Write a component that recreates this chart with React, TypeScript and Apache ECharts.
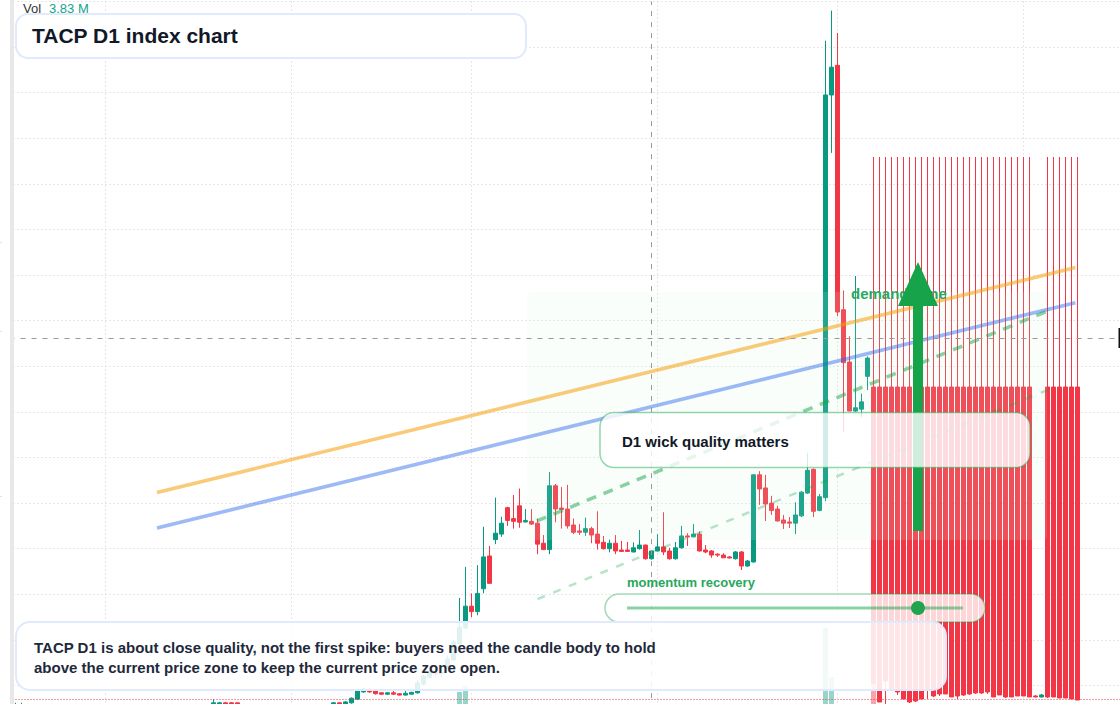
import { useEffect, useRef } from 'react';
import * as echarts from 'echarts';

const FONT = '"Liberation Sans", Arial, sans-serif';
const UP = '#089981';
const DOWN = '#F23645';
const INK = '#111827';
const SLATE = '#1e293b';
const GREEN = '#16a34a';

type Candle = [number, number, number, number] | null; // open, close, low, high

const gap = (n: number): Candle[] => Array(n).fill(null);

// Off the bottom of the picture before mid March, so left out
const febCandles: Candle[] = [null, [28, 29, 27, 31], [28, 29, 27, 31], ...gap(13)];
const marCandles: Candle[] = [
  ...gap(18),
  [28, 31, 26, 35], [29, 31, 28, 32], [31, 29, 28, 32], [31, 29, 28, 32], [31, 29, 28, 31.5],
  ...gap(8),
];
const aprCandles: Candle[] = [
  ...gap(7),
  [29, 31, 28, 32], [31, 29, 28, 31.5], [29, 32, 28, 33], [31, 36, 30, 37], [35, 44, 34, 45],
  [43, 46, 42, 47.5], [46, 43, 42, 47.5], [44, 41, 40, 45], [42, 40.5, 39.5, 42.5], [40.5, 42, 39.5, 42.5],
  [42, 40.5, 39.5, 44], [41, 39.5, 39, 41.5], [39.5, 41.5, 39, 44], [40.5, 42.5, 40, 43], [42, 53, 41, 56],
  [51.6, 60.4, 50, 62], [59, 65, 58, 67], [65, 63, 60, 68], [63, 64.5, 59, 70], [70, 79, 69, 83],
  [78, 98, 77, 100], [95.5, 114, 94, 146], [113, 137, 112, 180],
];
const mayCandles: Candle[] = [
  [137, 131, 125, 151], [131, 151, 127, 182], [156, 191, 151, 224], [192, 162, 162, 203], [210, 217, 205, 256],
  [216, 228, 213, 235], [245, 231, 225, 246], [233, 230, 222, 259], [247, 229, 223, 266], [229.3, 231, 229, 243.5],
  [230, 227, 226, 243.5], [228, 205, 194, 233], [206, 199, 199, 215], [199, 269, 194, 284], [269, 243.5, 229, 271],
  [244.6, 243, 222, 267.6], [243.5, 225, 222, 270], [226, 218, 216, 233], [219.5, 218, 215, 227], [218, 222, 214, 234],
  [222, 215, 206, 224], [216, 206, 199, 241], [207, 200, 199, 214], [200, 206, 196, 210], [206, 197.5, 194, 215],
  [198.6, 197, 197, 208.5], [198.6, 197, 197, 207.4], [196.4, 201, 196, 207], [200, 204, 199, 220.5], [204, 189, 188, 204.5],
  [189, 197.5, 188, 198],
];
const junCandles: Candle[] = [
  [197.5, 202, 197, 216], [202, 196.5, 193, 240], [197.5, 189, 188, 201], [189, 201, 188, 207.4], [201, 214, 200, 225],
  [214, 212.8, 203, 217], [213, 216, 212.5, 227], [216, 197.5, 197, 219], [198.6, 196.4, 195, 204], [197.5, 193, 190, 198.6],
  [194, 193, 191, 195], [193, 190, 190, 195], [191, 189.8, 189.5, 192], [189, 196.4, 188, 197.5], [196.4, 181, 176.6, 197.5],
  [181, 186.5, 180, 187.6], [185.4, 281, 185, 281.5], [281, 265.5, 248, 285], [266.6, 249, 230.4, 281], [250, 242, 237, 258],
  [243.5, 230.4, 230, 247], [231.5, 228, 221.6, 237], [229.3, 228, 222.7, 234.7], [228, 237, 216, 251], [236, 262, 234.7, 263.3],
  [261, 286, 260, 305], [287, 241, 234.7, 288], [242, 257, 241, 260], [256, 697.5, 252, 757], [697.5, 728, 634, 790],
];
const julCandles: Candle[] = [
  [730, 459.5, 455, 765.5], [462, 404, 328, 483], [404.7, 351, 351, 433], [351, 354.5, 350, 499], [353, 361, 344, 370],
  [389, 409, 374, 411],
  [377.3, 52.7, 52, 629.5], [377.3, 31.9, 31.9, 629.5], [377.3, 54.9, 29.7, 629.5], [377.3, 46.2, 46.2, 629.5], [377.3, 42.9, 39.6, 629.5],
  [377.3, 35.2, 35.2, 629.5], [377.3, 31.9, 30.8, 629.5], [377.3, 33, 31.9, 629.5], [377.3, 35.2, 35.2, 629.5], [377.3, 45.1, 35.2, 629.5],
  [377.3, 38.5, 37.4, 629.5], [377.3, 40.7, 38.5, 629.5], [377.3, 40.7, 40.7, 629.5], [377.3, 37.4, 37.4, 629.5], [377.3, 38.5, 35.2, 629.5],
  [377.3, 39.6, 38.5, 629.5], [377.3, 40.7, 39.6, 629.5], [377.3, 41.8, 40.7, 629.5], [377.3, 41.8, 40.7, 629.5], [377.3, 42.9, 40.7, 629.5],
  [377.3, 37.4, 37.4, 629.5], [377.3, 39.6, 39.6, 629.5], [377.3, 37.4, 36.3, 629.5], [377.3, 37.4, 37.4, 629.5], [377.3, 38.5, 38.5, 629.5],
];
const augCandles: Candle[] = [
  [377.3, 38.5, 38.5, 629.5], [377.3, 37.4, 37.4, 629.5], [38.5, 37.4, 37, 39.6], [37.4, 39.6, 37, 40.7], [377.3, 37.4, 36.3, 629.5],
  [377.3, 37.4, 37.4, 629.5], [377.3, 36.3, 36.3, 629.5], [377.3, 36.3, 36.3, 629.5], [377.3, 35.2, 35.2, 629.5], [377.3, 34.1, 34.1, 629.5],
  ...gap(8),
];
const candles = [...febCandles, ...marCandles, ...aprCandles, ...mayCandles, ...junCandles, ...julCandles, ...augCandles];

// one category per calendar day from Feb 13
const categories: string[] = [];
const monthStarts = ['2023-03-01', '2023-04-01', '2023-05-01', '2023-06-01', '2023-07-01', '2023-08-01'];
[[2, 13, 28], [3, 1, 31], [4, 1, 30], [5, 1, 31], [6, 1, 30], [7, 1, 31], [8, 1, 18]].forEach(([m, from, to]) => {
  for (let d = from; d <= to; d++) {
    categories.push(`2023-${String(m).padStart(2, '0')}-${String(d).padStart(2, '0')}`);
  }
});

const volumeDays = ['2023-04-29', '2023-04-30', '2023-06-29', '2023-06-30', '2023-07-07'];
const volumeValues = [1.45, 1.67, 3.83, 2.0, 1.78]; // millions

const crosshairDay = '2023-05-31';
const crosshairPrice = 431;
const lastPrice = 35;

// trend lines: [day index, price]
const orangeTrend = [[24.58, 261.6], [177.65, 508.2]];
const blueTrend = [[24.58, 222.7], [177.65, 469.8]];
const supportTrend = [[87.9, 230.4], [173, 460.6]];
const lowerTrend = [[88, 144.8], [173, 374]];

const panel = (x: number, y: number, width: number, height: number, r: number, fill: string, stroke: string, lineWidth: number) => ({
  type: 'rect',
  z: 10,
  shape: { x, y, width, height, r },
  style: { fill, stroke, lineWidth },
  silent: true,
});

const label = (x: number, y: number, text: string, fontSize: number, fill: string, fontWeight: string = 'bold', z = 11) => ({
  type: 'text',
  z,
  style: { x, y, text, fontSize, fontWeight, fontFamily: FONT, fill, verticalAlign: 'middle' },
  silent: true,
});

const edgeTick = (y: number) => ({
  type: 'line',
  z: 9,
  shape: { x1: 0, y1: y, x2: 2, y2: y },
  style: { stroke: '#e2e2e2', lineWidth: 1 },
  silent: true,
});

function trendSeries(data: number[][], color: string, opacity: number, width: number, dash?: number[]) {
  return {
    type: 'line',
    xAxisIndex: 1,
    yAxisIndex: 0,
    z: 4,
    data,
    symbol: 'none',
    silent: true,
    lineStyle: { color, opacity, width, type: dash || 'solid' },
  };
}

export default function App() {
  const chartRef = useRef<HTMLDivElement>(null);

  useEffect(() => {
    if (!chartRef.current) return;
    const chart = echarts.init(chartRef.current, undefined, { renderer: 'svg' });
    chart.setOption({
      animation: false,
      backgroundColor: '#ffffff',
      grid: { left: 9.5, top: 1.5, width: 1116, height: 729.6, containLabel: false, outerBoundsMode: 'none' },
      xAxis: [
        {
          type: 'category',
          data: categories,
          boundaryGap: false,
          axisLine: { show: false },
          axisTick: { show: false },
          axisLabel: { show: false },
          splitLine: {
            show: true,
            interval: (_i: number, value: string) => monthStarts.includes(value),
            lineStyle: { color: '#cfcfcf', width: 1, type: [1, 3] },
          },
        },
        { type: 'value', min: 0, max: 186, show: false },
      ],
      yAxis: [
        {
          type: 'value',
          min: 0,
          max: 800,
          interval: 50,
          axisLine: { show: false },
          axisTick: { show: false },
          axisLabel: { show: false },
          splitLine: { show: true, lineStyle: { color: '#cfcfcf', width: 1, type: [1, 3] } },
        },
        { type: 'value', min: 0, max: 27, show: false, splitLine: { show: false } },
      ],
      series: [
        {
          type: 'bar',
          xAxisIndex: 0,
          yAxisIndex: 1,
          z: 1,
          barWidth: 5,
          silent: true,
          data: categories.map((d) => {
            const k = volumeDays.indexOf(d);
            if (k < 0) return null;
            return {
              value: volumeValues[k],
              itemStyle: { color: d === '2023-07-07' ? 'rgba(242,54,69,0.45)' : 'rgba(8,153,129,0.42)' },
            };
          }),
        },
        {
          type: 'candlestick',
          xAxisIndex: 0,
          yAxisIndex: 0,
          z: 2,
          barWidth: 5,
          silent: true,
          itemStyle: { color: UP, color0: DOWN, borderColor: UP, borderColor0: DOWN, borderWidth: 1 },
          data: candles.map((c) => c || ['-', '-', '-', '-']),
          markLine: {
            silent: true,
            symbol: 'none',
            animation: false,
            label: { show: false },
            data: [
              { xAxis: crosshairDay, lineStyle: { color: '#999999', width: 1, type: [5, 6] } },
              { yAxis: crosshairPrice, lineStyle: { color: '#999999', width: 1, type: [5, 6] } },
              { yAxis: lastPrice, lineStyle: { color: DOWN, width: 1, type: [1, 2] } },
            ],
          },
        },
        trendSeries(orangeTrend, '#f59e0b', 0.55, 3.6),
        trendSeries(blueTrend, '#2563eb', 0.45, 3.6),
        trendSeries(supportTrend, GREEN, 0.5, 3.5, [10, 8]),
        trendSeries(lowerTrend, GREEN, 0.3, 2.5, [8, 9]),
      ],
      graphic: [
        // left edge of the pane
        { type: 'rect', z: 9, shape: { x: 0, y: 0, width: 14, height: 704 }, style: { fill: '#ffffff' }, silent: true },
        { type: 'rect', z: 9, shape: { x: 10, y: 0, width: 4, height: 704 }, style: { fill: '#e8e8e8' }, silent: true },
        edgeTick(242.5),
        edgeTick(331.5),
        edgeTick(496.5),
        // zone over the candles
        { type: 'rect', z: 3, shape: { x: 527, y: 292, width: 520, height: 248, r: 4 }, style: { fill: 'rgba(220,245,225,0.13)' }, silent: true },
        label(851, 293, 'demand zone', 15, '#2aa85f', 'bold', 5),
        // arrow
        { type: 'rect', z: 6, shape: { x: 913, y: 305, width: 10, height: 226 }, style: { fill: GREEN }, silent: true },
        { type: 'polygon', z: 6, shape: { points: [[918, 262], [938, 306], [898, 306]] }, style: { fill: GREEN }, silent: true },
        // price cursor at the right edge
        { type: 'line', z: 6, shape: { x1: 1119.5, y1: 328, x2: 1119.5, y2: 348 }, style: { stroke: '#111111', lineWidth: 2 }, silent: true },
        // panels
        label(23, 8, 'Vol', 13, '#333333', 'normal'),
        label(49, 8, '3.83 M', 13, '#14a38b', 'normal'),
        panel(16, 14, 510, 44, 12, 'rgba(255,255,255,0.96)', '#e0eafc', 2),
        label(32, 35.5, 'TACP D1 index chart', 21, INK),
        panel(600, 412.5, 430, 55, 14, 'rgba(255,255,255,0.8)', 'rgba(22,163,74,0.45)', 1.5),
        label(622, 441, 'D1 wick quality matters', 15, INK),
        label(627, 582, 'momentum recovery', 13, '#27a85c'),
        panel(605, 594, 380, 28, 14, 'rgba(255,255,255,0.8)', 'rgba(22,163,74,0.4)', 1.5),
        { type: 'line', z: 11, shape: { x1: 627, y1: 608, x2: 963, y2: 608 }, style: { stroke: 'rgba(22,163,74,0.5)', lineWidth: 3 }, silent: true },
        { type: 'circle', z: 12, shape: { cx: 918, cy: 608, r: 7 }, style: { fill: '#22a350' }, silent: true },
        panel(16, 622, 930, 68, 14, 'rgba(255,255,255,0.87)', '#e0eafc', 2),
        label(34, 647, 'TACP D1 is about close quality, not the first spike: buyers need the candle body to hold', 15, SLATE),
        label(34, 667, 'above the current price zone to keep the current price zone open.', 15, SLATE),
      ],
    });
    return () => chart.dispose();
  }, []);

  return <div ref={chartRef} style={{ position: 'fixed', left: 0, top: 0, width: 1120, height: 704 }} />;
}
